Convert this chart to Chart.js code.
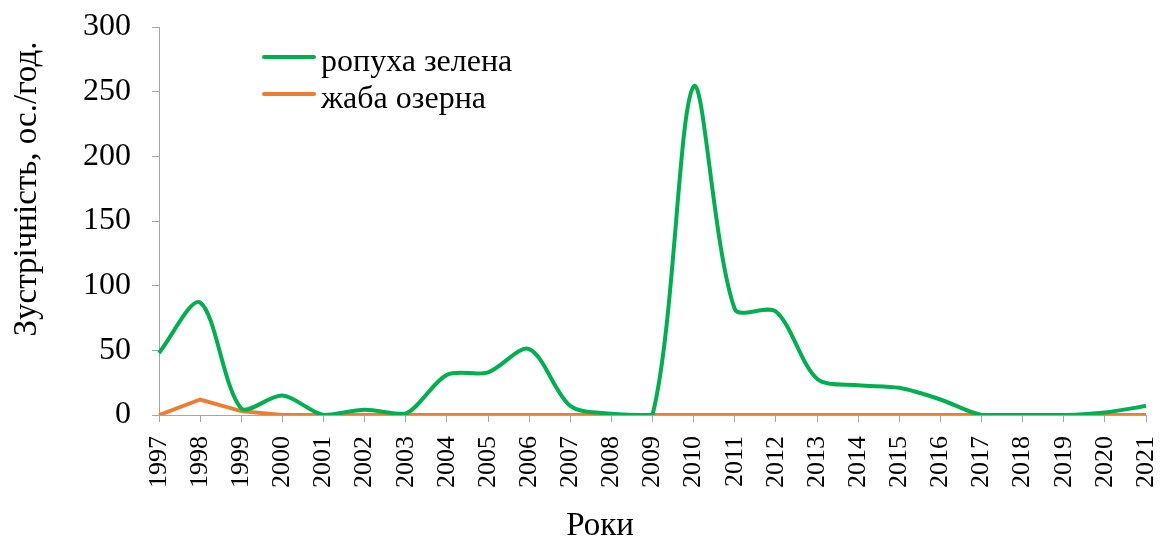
<!DOCTYPE html>
<html>
<head>
<meta charset="utf-8">
<script src="https://cdn.jsdelivr.net/npm/chart.js@4.4.1/dist/chart.umd.min.js"></script>
<style>
  html, body { margin: 0; padding: 0; background: #fff; }
  #wrap { width: 1170px; height: 541px; }
</style>
</head>
<body>
<div id="wrap"><canvas id="chart" width="1170" height="541"></canvas></div>
<script>
// data
const years = ['1997', '1998', '1999', '2000', '2001', '2002', '2003', '2004', '2005', '2006',
  '2007', '2008', '2009', '2010', '2011', '2012', '2013', '2014', '2015', '2016',
  '2017', '2018', '2019', '2020', '2021'];
const greenToad = [48, 87, 5, 15, 0, 4, 1, 31, 33, 51, 7, 1, 0, 254, 82, 80, 28, 23, 21, 12, 0, 0, 0, 2, 7];
const marshFrog = [0, 12, 3, 0, 0, 0, 0, 0, 0, 0, 0, 0, 0, 0, 0, 0, 0, 0, 0, 0, 0, 0, 0, 0, 0];
const yTicks = [0, 50, 100, 150, 200, 250, 300];
const xTitle = 'Роки';
const yTitle = 'Зустрічність, ос./год.';

const serif = '"Liberation Serif", "Times New Roman", serif';
const axisGray = '#a6a6a6';

// legend inside the plot and the two axis titles, placed like in the original
const extras = {
  id: 'extras',
  afterDraw(chart) {
    const ctx = chart.ctx;
    const rows = [57, 94];
    ctx.save();
    chart.data.datasets.forEach(function (ds, i) {
      const y = rows[i];
      ctx.strokeStyle = ds.borderColor;
      ctx.lineWidth = 4;
      ctx.lineCap = 'round';
      ctx.beginPath();
      ctx.moveTo(264, y);
      ctx.lineTo(314, y);
      ctx.stroke();
      ctx.fillStyle = '#000';
      ctx.font = '32px ' + serif;
      ctx.textBaseline = 'alphabetic';
      ctx.textAlign = 'left';
      ctx.fillText(ds.label, 321, y + 14);
    });

    ctx.font = '33px ' + serif;
    ctx.textAlign = 'center';
    ctx.textBaseline = 'alphabetic';
    ctx.fillText(xTitle, 600, 535);

    ctx.translate(36, 189);
    ctx.rotate(-Math.PI / 2);
    ctx.fillText(yTitle, 0, 0);
    ctx.restore();
  }
};

const ctx = document.getElementById('chart').getContext('2d');
const chart = new Chart(ctx, {
  type: 'line',
  data: {
    labels: years,
    datasets: [{
      label: 'ропуха зелена',
      data: greenToad,
      borderColor: '#00b050',
      borderWidth: 4,
      pointRadius: 0,
      tension: 0.3
    }, {
      label: 'жаба озерна',
      data: marshFrog,
      borderColor: '#ed7d31',
      borderWidth: 4,
      pointRadius: 0,
      tension: 0
    }]
  },
  options: {
    responsive: false,
    animation: false,
    layout: { padding: { left: 0, right: 24, top: 27, bottom: 0 } },
    plugins: {
      legend: { display: false },
      tooltip: { enabled: false }
    },
    scales: {
      x: {
        offset: false,
        grid: { display: true, drawOnChartArea: false, drawTicks: true, tickLength: 7, color: axisGray },
        border: { display: true, color: axisGray, width: 1 },
        ticks: {
          autoSkip: false,
          minRotation: 90,
          maxRotation: 90,
          padding: 14,
          color: '#000',
          font: { family: serif, size: 26 }
        },
        afterFit(scale) {
          scale.height = 126;
          scale.paddingLeft = 0;
          scale.paddingRight = 0;
        }
      },
      y: {
        min: 0,
        max: 300,
        afterBuildTicks(scale) { scale.ticks = yTicks.map(v => ({ value: v })); },
        grid: { display: true, drawOnChartArea: false, drawTicks: true, tickLength: 7, color: axisGray },
        border: { display: true, color: axisGray, width: 1 },
        ticks: {
          padding: 21,
          color: '#000',
          font: { family: serif, size: 32 }
        },
        afterFit(scale) {
          scale.width = 159;
          scale.paddingTop = 0;
          scale.paddingBottom = 0;
        }
      }
    }
  },
  plugins: [extras]
});
</script>
</body>
</html>
